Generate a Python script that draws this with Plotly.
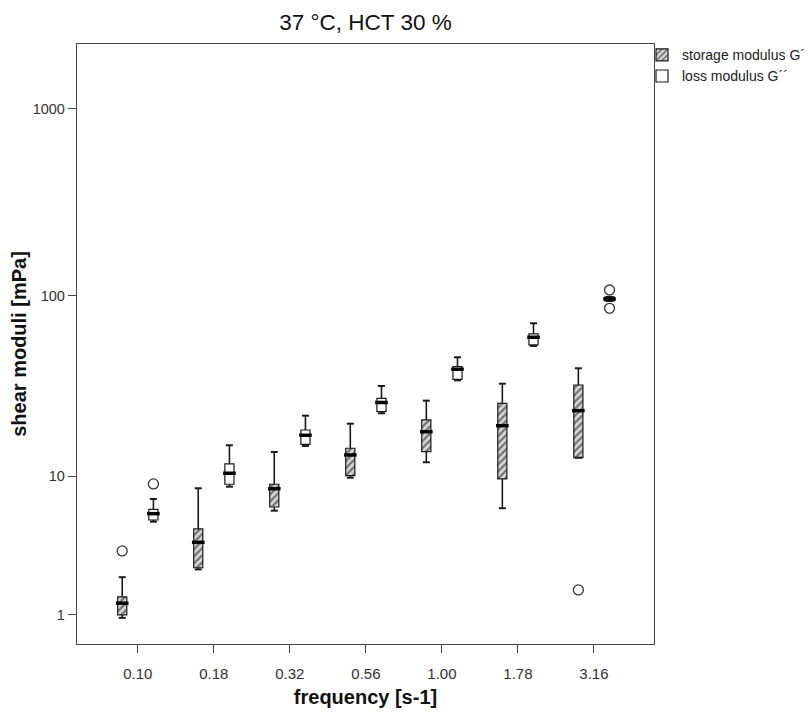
import numpy as np
import plotly.graph_objects as go

# ---------------- data ----------------
freq_labels = ["0.10", "0.18", "0.32", "0.56", "1.00", "1.78", "3.16"]

storage_whisker_low = [0.93, 2.50, 6.20, 9.80, 12.05, 6.42, 12.80]
storage_q1 = [1.00, 2.57, 6.53, 10.07, 13.86, 9.63, 12.80]
storage_median = [1.31, 3.88, 8.43, 13.27, 18.00, 19.45, 23.59]
storage_q3 = [1.50, 4.75, 8.96, 14.50, 20.94, 25.93, 32.72]
storage_whisker_high = [2.18, 8.48, 13.81, 19.96, 26.81, 33.26, 40.40]
storage_outlier_freq = ["0.10", "3.16"]
storage_outlier_val = [3.39, 1.72]

loss_whisker_low = [5.29, 8.67, 14.94, 22.82, 34.72, 53.45, 93.6]
loss_q1 = [5.42, 8.96, 15.27, 23.29, 35.16, 54.12, 93.6]
loss_median = [5.94, 10.40, 17.18, 26.20, 39.89, 59.58, 96.0]
loss_q3 = [6.32, 11.78, 18.40, 27.63, 41.23, 62.10, 98.4]
loss_whisker_high = [7.31, 15.08, 22.13, 32.31, 46.39, 70.95, 98.4]
loss_outlier_freq = ["0.10", "3.16", "3.16"]
loss_outlier_val = [9.0, 107.3, 85.5]

y_tick_values = [1, 10, 100, 1000]
y_tick_labels = ["1", "10", "100", "1000"]


# SPSS-style log scale (log10(y + 1))
def t(v):
    return np.log10(np.asarray(v, dtype=float) + 1.0)


FONT = "Arial, 'Liberation Sans', sans-serif"
OFF = 0.205
W = 0.12
LINE = "#1a1a1a"
idx = {f: i for i, f in enumerate(freq_labels)}

# the page body adds an 8 px offset, so the figure is 8 px smaller each way
FIG_W, FIG_H = 804, 705
ML, MR, MT, MB = 69, 158, 36, 69
PLOT_W = FIG_W - ML - MR

fig = go.Figure()


def add_series(name, low, q1, med, q3, high, out_f, out_v, side, pattern, fill):
    x = np.arange(len(freq_labels)) + side * OFF
    fig.add_trace(go.Bar(
        x=x, base=t(q1), y=t(q3) - t(q1), width=W, name=name,
        marker=dict(color=fill, line=dict(color=LINE, width=1.2), pattern=pattern),
        hoverinfo="skip",
    ))
    wx, wy = [], []
    for xi, a, b, c, d in zip(x, t(low), t(q1), t(q3), t(high)):
        wx += [xi, xi, None, xi, xi, None]
        wy += [a, b, None, c, d, None]
    fig.add_trace(go.Scatter(x=wx, y=wy, mode="lines", line=dict(color=LINE, width=1.6),
                             showlegend=False, hoverinfo="skip"))
    fig.add_trace(go.Scatter(
        x=np.concatenate([x, x]), y=np.concatenate([t(low), t(high)]), mode="markers",
        marker=dict(symbol="line-ew", size=5, line=dict(color=LINE, width=2)),
        showlegend=False, hoverinfo="skip"))
    fig.add_trace(go.Scatter(
        x=x, y=t(med), mode="markers",
        marker=dict(symbol="line-ew", size=9, line=dict(color="#000", width=3.5)),
        showlegend=False, hoverinfo="skip"))
    ox = [idx[f] + side * OFF for f in out_f]
    fig.add_trace(go.Scatter(
        x=ox, y=t(out_v), mode="markers",
        marker=dict(symbol="circle-open", size=10, color="#333", line=dict(width=1.3)),
        showlegend=False, hoverinfo="skip"))


add_series("storage modulus G´", storage_whisker_low, storage_q1, storage_median, storage_q3,
           storage_whisker_high, storage_outlier_freq, storage_outlier_val, -1,
           dict(shape="/", fgcolor="#111111", bgcolor="#d6d6d6", size=5, solidity=0.45),
           "#d6d6d6")
add_series("loss modulus G´´", loss_whisker_low, loss_q1, loss_median, loss_q3,
           loss_whisker_high, loss_outlier_freq, loss_outlier_val, 1,
           dict(shape=""), "#ffffff")

axis_common = dict(
    showline=True, linecolor="#444", linewidth=1.3, mirror=True,
    ticks="outside", ticklen=8, tickwidth=1.3, tickcolor="#444",
    showgrid=False, zeroline=False, automargin=False,
)

fig.update_layout(
    width=FIG_W, height=FIG_H,
    margin=dict(l=ML, r=MR, t=MT, b=MB, autoexpand=False),
    paper_bgcolor="white", plot_bgcolor="white",
    barmode="overlay",
    font=dict(family=FONT, color="#222"),
    title=dict(text="37 °C, HCT 30 %", x=0.5, xref="paper", xanchor="center",
               y=1 - 14 / FIG_H, yref="container", yanchor="middle",
               font=dict(size=22.5, color="#111", family=FONT)),
    xaxis=dict(range=[-0.8, 6.79], tickmode="array", tickvals=list(range(len(freq_labels))),
               ticktext=freq_labels, tickfont=dict(size=15, color="#333"),
               ticklabelstandoff=8,
               title=dict(text="<b>frequency [s-1]</b>", font=dict(size=20, color="#111"), standoff=8),
               **axis_common),
    yaxis=dict(range=[0.146, 3.347], tickmode="array", tickvals=t(y_tick_values),
               ticktext=y_tick_labels, tickfont=dict(size=14.5, color="#333"),
               title=dict(text="<b>shear moduli [mPa]</b>", font=dict(size=20, color="#111"), standoff=1),
               **axis_common),
    legend=dict(x=(PLOT_W - 12) / PLOT_W, y=1.008, xanchor="left", yanchor="top",
                bgcolor="rgba(0,0,0,0)",
                font=dict(size=14, color="#222"), itemwidth=30, tracegroupgap=0),
    showlegend=True,
)

fig.write_html("out.html")
